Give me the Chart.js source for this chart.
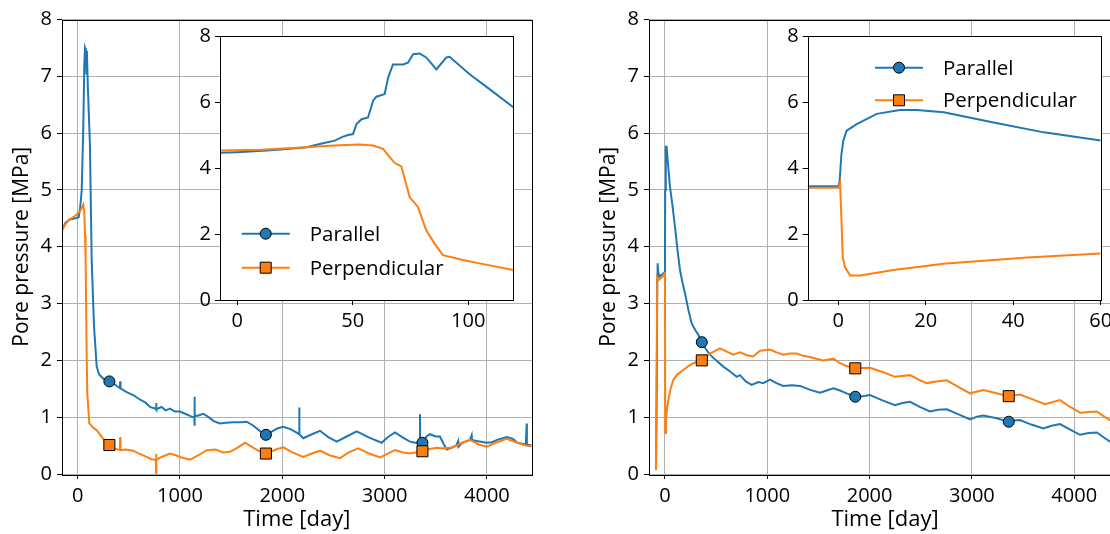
<!DOCTYPE html>
<html>
<head>
<meta charset="utf-8">
<script src="https://cdn.jsdelivr.net/npm/chart.js@4.4.1/dist/chart.umd.min.js"></script>
<style>
html, body { margin: 0; padding: 0; background: #fff; overflow: hidden; }
#wrap { position: relative; width: 1110px; height: 534px; overflow: hidden; }
canvas { position: absolute; }
</style>
</head>
<body>
<div id="wrap">
<canvas id="leftMain" width="560" height="534" style="left:0;top:0"></canvas>
<canvas id="rightMain" width="555" height="534" style="left:570px;top:0"></canvas>
<canvas id="leftInset" width="345" height="320" style="left:180px;top:20px"></canvas>
<canvas id="rightInset" width="360" height="320" style="left:765px;top:20px"></canvas>
</div>
<script>
// ---- data ----
const seriesNames = ['Parallel', 'Perpendicular'];

const mainXTicks = [0, 1000, 2000, 3000, 4000];
const mainYTicks = [0, 1, 2, 3, 4, 5, 6, 7, 8];
const insetYTicks = [0, 2, 4, 6, 8];
const leftInsetXTicks = [0, 50, 100];
const rightInsetXTicks = [0, 20, 40, 60];

// left panel, main
const leftParDays = [-150, -120, -80, -20, 10, 25, 40, 55, 65, 72, 80, 86, 90, 100, 120, 137, 160, 186, 210, 250, 310, 360, 413, 416, 419, 470, 542, 600, 660, 707, 740, 766, 768, 770, 820, 860, 902, 950, 1000, 1050, 1114, 1140, 1141, 1143, 1146, 1180, 1228, 1280, 1330, 1391, 1450, 1520, 1600, 1652, 1718, 1780, 1840, 1900, 1950, 2010, 2080, 2150, 2164, 2166, 2168, 2205, 2290, 2369, 2450, 2532, 2630, 2727, 2850, 2971, 3040, 3102, 3180, 3248, 3300, 3344, 3346, 3348, 3370, 3410, 3444, 3500, 3541, 3580, 3607, 3650, 3700, 3720, 3722, 3760, 3835, 3851, 3853, 3900, 3998, 4050, 4100, 4194, 4250, 4300, 4380, 4389, 4391, 4438];
const leftParVals = [4.30, 4.42, 4.48, 4.50, 4.52, 4.70, 5.00, 6.10, 7.20, 7.50, 7.45, 7.05, 7.45, 6.80, 5.80, 3.77, 2.60, 1.89, 1.75, 1.68, 1.63, 1.58, 1.51, 1.63, 1.51, 1.45, 1.39, 1.32, 1.26, 1.18, 1.16, 1.15, 1.25, 1.14, 1.18, 1.12, 1.15, 1.10, 1.10, 1.06, 1.01, 1.00, 1.36, 0.85, 1.02, 1.03, 1.06, 1.00, 0.93, 0.89, 0.90, 0.91, 0.91, 0.92, 0.85, 0.76, 0.69, 0.75, 0.80, 0.83, 0.79, 0.72, 0.70, 1.17, 0.70, 0.63, 0.70, 0.76, 0.65, 0.57, 0.66, 0.75, 0.64, 0.55, 0.66, 0.73, 0.64, 0.57, 0.55, 0.55, 1.05, 0.56, 0.55, 0.66, 0.70, 0.66, 0.66, 0.52, 0.43, 0.46, 0.50, 0.58, 0.48, 0.55, 0.60, 0.68, 0.60, 0.58, 0.55, 0.56, 0.60, 0.65, 0.62, 0.55, 0.52, 0.89, 0.52, 0.50];
const leftPerpDays = [-150, -120, -80, -20, 20, 45, 55, 65, 72, 78, 86, 94, 114, 150, 186, 250, 310, 360, 413, 416, 419, 470, 542, 600, 674, 720, 764, 766, 768, 770, 820, 902, 960, 1000, 1098, 1180, 1261, 1350, 1420, 1489, 1560, 1636, 1718, 1780, 1840, 1881, 1950, 2010, 2100, 2205, 2290, 2369, 2460, 2564, 2650, 2743, 2850, 2955, 3030, 3102, 3180, 3248, 3300, 3370, 3440, 3509, 3580, 3672, 3760, 3835, 3920, 3998, 4100, 4194, 4300, 4380, 4438];
const leftPerpVals = [4.30, 4.40, 4.48, 4.55, 4.62, 4.70, 4.74, 4.60, 4.20, 3.77, 2.40, 1.42, 0.89, 0.82, 0.77, 0.62, 0.51, 0.45, 0.42, 0.65, 0.42, 0.43, 0.41, 0.36, 0.30, 0.26, 0.25, 0.00, 0.35, 0.25, 0.30, 0.36, 0.33, 0.30, 0.25, 0.33, 0.42, 0.43, 0.38, 0.39, 0.46, 0.55, 0.46, 0.40, 0.36, 0.39, 0.44, 0.47, 0.38, 0.30, 0.36, 0.41, 0.33, 0.28, 0.38, 0.45, 0.36, 0.29, 0.36, 0.42, 0.38, 0.36, 0.38, 0.40, 0.44, 0.46, 0.45, 0.47, 0.55, 0.60, 0.52, 0.48, 0.56, 0.62, 0.55, 0.50, 0.49];
const leftMarkDays = [310, 1840, 3370];

// left panel, inset (first 120 days)
const leftInsetParDays = [-7.5, 0, 12.7, 20, 30, 35.7, 42.2, 45.8, 48, 50.1, 51.6, 53.8, 56.6, 58.8, 60.2, 63.8, 65.3, 67.4, 71.8, 73.9, 76.1, 78.9, 81.8, 86.2, 90.5, 91.9, 100.6, 109.2, 119.5];
const leftInsetParVals = [4.46, 4.48, 4.53, 4.57, 4.63, 4.73, 4.83, 4.95, 5.00, 5.03, 5.33, 5.48, 5.53, 6.04, 6.16, 6.24, 6.74, 7.14, 7.14, 7.19, 7.45, 7.47, 7.35, 6.99, 7.35, 7.37, 6.84, 6.39, 5.84];
const leftInsetPerpDays = [-7.5, 10, 30, 42, 52.6, 58.8, 63.1, 66, 68.2, 71, 74.6, 78.2, 81.8, 85.4, 89, 97.7, 104.9, 119.5];
const leftInsetPerpVals = [4.53, 4.55, 4.63, 4.68, 4.71, 4.68, 4.58, 4.33, 4.15, 4.05, 3.12, 2.82, 2.11, 1.71, 1.36, 1.21, 1.11, 0.91];

// right panel, main
const rightParDays = [-88, -80, -75, -72, -65, -55, -40, -20, -5, 0, 2, 8, 16, 30, 49, 75, 98, 120, 147, 170, 196, 230, 261, 300, 326, 360, 400, 440, 500, 570, 640, 701, 733, 790, 847, 913, 960, 1026, 1090, 1157, 1240, 1320, 1420, 1515, 1580, 1646, 1711, 1776, 1860, 1930, 2004, 2120, 2248, 2320, 2395, 2490, 2590, 2670, 2754, 2870, 2981, 3050, 3112, 3242, 3360, 3410, 3470, 3580, 3698, 3780, 3861, 3960, 4057, 4140, 4220, 4300, 4350, 4420];
const rightParVals = [0.07, 1.50, 3.50, 3.71, 3.55, 3.47, 3.50, 3.52, 3.55, 3.60, 5.00, 5.76, 5.76, 5.45, 5.06, 4.70, 4.35, 3.98, 3.59, 3.38, 3.18, 2.88, 2.65, 2.52, 2.45, 2.32, 2.20, 2.10, 2.00, 1.89, 1.80, 1.71, 1.74, 1.63, 1.57, 1.62, 1.60, 1.66, 1.60, 1.55, 1.56, 1.55, 1.48, 1.43, 1.47, 1.51, 1.47, 1.42, 1.36, 1.37, 1.39, 1.30, 1.21, 1.25, 1.27, 1.18, 1.10, 1.13, 1.14, 1.05, 0.96, 1.01, 1.03, 0.98, 0.92, 0.94, 0.95, 0.87, 0.80, 0.85, 0.88, 0.78, 0.69, 0.72, 0.73, 0.63, 0.57, 0.53];
const rightPerpDays = [-88, -82, -75, -60, -40, -20, -7, 0, 3, 10, 20, 33, 55, 81, 120, 179, 230, 277, 360, 420, 472, 537, 600, 668, 733, 800, 863, 929, 1026, 1090, 1157, 1220, 1287, 1350, 1418, 1480, 1548, 1646, 1711, 1776, 1860, 2004, 2120, 2248, 2395, 2480, 2558, 2650, 2754, 2870, 2981, 3112, 3242, 3360, 3470, 3600, 3714, 3861, 3960, 4057, 4140, 4220, 4300, 4350, 4420];
const rightPerpVals = [0.07, 1.80, 3.47, 3.42, 3.45, 3.48, 3.53, 3.55, 0.72, 0.95, 1.15, 1.30, 1.50, 1.65, 1.75, 1.83, 1.90, 1.95, 2.00, 2.10, 2.15, 2.21, 2.16, 2.10, 2.14, 2.09, 2.07, 2.17, 2.19, 2.14, 2.10, 2.12, 2.12, 2.08, 2.06, 2.03, 2.00, 2.03, 1.95, 1.90, 1.86, 1.87, 1.80, 1.71, 1.74, 1.66, 1.60, 1.63, 1.65, 1.53, 1.42, 1.48, 1.42, 1.37, 1.40, 1.31, 1.23, 1.30, 1.18, 1.08, 1.09, 1.10, 1.00, 0.95, 0.90];
const rightMarkDays = [360, 1860, 3360];

// right panel, inset (first 60 days)
const rightInsetParDays = [-7, 0, 0.3, 0.7, 1.15, 1.9, 4.2, 8.8, 14.1, 17.9, 24.1, 35.5, 47, 60];
const rightInsetParVals = [3.45, 3.45, 3.60, 4.40, 4.83, 5.13, 5.33, 5.64, 5.76, 5.76, 5.69, 5.38, 5.08, 4.83];
const rightInsetPerpDays = [-7, 0, 0.4, 0.7, 1.0, 1.5, 2.7, 5, 12.6, 21.8, 24, 43.2, 60];
const rightInsetPerpVals = [3.40, 3.40, 3.55, 2.50, 1.31, 1.00, 0.74, 0.74, 0.91, 1.06, 1.10, 1.29, 1.41];

// ---- styling / helpers ----
const BLUE = '#1f77b4';
const ORANGE = '#ff7f0e';
const FONT = "'Open Sans', 'DejaVu Sans', sans-serif";

const pts = (xs, ys) => xs.map((x, i) => ({ x: x, y: ys[i] }));
const fixedTicks = arr => (scale => { scale.ticks = arr.map(v => ({ value: v })); });
const plain = v => String(v);

const frame = {
  id: 'frame',
  beforeDraw(chart, args, opts) {
    if (!opts.fill) return;
    const a = chart.chartArea;
    chart.ctx.save();
    chart.ctx.fillStyle = opts.fill;
    chart.ctx.fillRect(a.left, a.top, a.right - a.left, a.bottom - a.top);
    chart.ctx.restore();
  },
  afterDraw(chart) {
    const a = chart.chartArea, ctx = chart.ctx;
    ctx.save();
    ctx.strokeStyle = '#000';
    ctx.lineWidth = 1;
    ctx.strokeRect(Math.round(a.left) + 0.5, Math.round(a.top) + 0.5,
      Math.round(a.right - a.left), Math.round(a.bottom - a.top));
    ctx.restore();
  }
};

// legend with line + marker, like matplotlib
const insetLegend = {
  id: 'insetLegend',
  afterDraw(chart, args, opts) {
    if (!opts.show) return;
    const ctx = chart.ctx, a = chart.chartArea;
    ctx.save();
    chart.data.datasets.forEach((ds, i) => {
      const x0 = a.left + opts.x, y = a.top + opts.y + i * opts.gap;
      ctx.strokeStyle = ds.borderColor;
      ctx.lineWidth = 2;
      ctx.beginPath(); ctx.moveTo(x0, y); ctx.lineTo(x0 + 48, y); ctx.stroke();
      ctx.fillStyle = ds.borderColor;
      ctx.strokeStyle = '#000';
      ctx.lineWidth = 1;
      ctx.beginPath();
      if (ds.pointStyle === 'rect') ctx.rect(x0 + 24 - 5.5, y - 5.5, 11, 11);
      else ctx.arc(x0 + 24, y, 5.5, 0, Math.PI * 2);
      ctx.fill(); ctx.stroke();
      ctx.fillStyle = '#000';
      ctx.font = '20.5px ' + FONT;
      ctx.textBaseline = 'middle';
      ctx.fillText(seriesNames[i], x0 + 68, y + 1);
    });
    ctx.restore();
  }
};

function makeDatasets(parDays, parVals, perpDays, perpVals, markDays) {
  const rad = (r) => (c => (markDays && markDays.includes(c.raw.x)) ? r : 0);
  return [{
    label: seriesNames[0],
    data: pts(parDays, parVals),
    borderColor: BLUE, backgroundColor: BLUE,
    borderWidth: 2, tension: 0, order: 1,
    pointStyle: 'circle', pointRadius: rad(5.5),
    pointBackgroundColor: BLUE, pointBorderColor: '#000', pointBorderWidth: 1
  }, {
    label: seriesNames[1],
    data: pts(perpDays, perpVals),
    borderColor: ORANGE, backgroundColor: ORANGE,
    borderWidth: 2, tension: 0, order: 0,
    pointStyle: 'rect', pointRadius: rad(7.8),
    pointBackgroundColor: ORANGE, pointBorderColor: '#000', pointBorderWidth: 1
  }];
}

function mainChart(id, datasets, xMin, xMax, yWidth, titlePad, padRight) {
  return new Chart(document.getElementById(id), {
    type: 'line',
    data: { datasets: datasets },
    plugins: [frame],
    options: {
      responsive: false,
      animation: false,
      events: [],
      layout: { padding: { top: 19.5, right: padRight, left: 0, bottom: 0 } },
      scales: {
        x: {
          type: 'linear', min: xMin, max: xMax,
          afterBuildTicks: fixedTicks(mainXTicks),
          afterFit: s => { s.height = 60; },
          grid: { color: '#b0b0b0', lineWidth: 1, tickColor: '#000', tickLength: 5, tickWidth: 1 },
          border: { display: false },
          ticks: { color: '#000', font: { family: FONT, size: 20 }, padding: 5, autoSkip: false, maxRotation: 0, callback: plain },
          title: { display: true, text: 'Time [day]', color: '#000', font: { family: FONT, size: 22 }, padding: { top: 0, bottom: 1 } }
        },
        y: {
          min: 0, max: 8,
          afterBuildTicks: fixedTicks(mainYTicks),
          afterFit: s => { s.width = yWidth; },
          grid: { color: '#b0b0b0', lineWidth: 1, tickColor: '#000', tickLength: 5, tickWidth: 1 },
          border: { display: false },
          ticks: { color: '#000', font: { family: FONT, size: 20 }, padding: 5, callback: plain },
          title: { display: true, text: 'Pore pressure [MPa]', color: '#000', font: { family: FONT, size: 21 }, padding: { top: titlePad, bottom: 0 } }
        }
      },
      plugins: { legend: { display: false }, tooltip: { enabled: false }, frame: {} }
    }
  });
}

function insetChart(id, datasets, xMin, xMax, xTicks, yWidth, padRight, legend) {
  return new Chart(document.getElementById(id), {
    type: 'line',
    data: { datasets: datasets },
    plugins: [frame, insetLegend],
    options: {
      responsive: false,
      animation: false,
      events: [],
      layout: { padding: { top: 15, right: padRight, left: 0, bottom: 0 } },
      scales: {
        x: {
          type: 'linear', min: xMin, max: xMax,
          afterBuildTicks: fixedTicks(xTicks),
          afterFit: s => { s.height = 40; },
          grid: { drawOnChartArea: false, tickColor: '#000', tickLength: 5, tickWidth: 1 },
          border: { display: false },
          ticks: { color: '#000', font: { family: FONT, size: 20 }, padding: 4, autoSkip: false, maxRotation: 0, callback: plain }
        },
        y: {
          min: 0, max: 8,
          afterBuildTicks: fixedTicks(insetYTicks),
          afterFit: s => { s.width = yWidth; },
          grid: { drawOnChartArea: false, tickColor: '#000', tickLength: 5, tickWidth: 1 },
          border: { display: false },
          ticks: { color: '#000', font: { family: FONT, size: 20 }, padding: 4, callback: plain }
        }
      },
      plugins: {
        legend: { display: false }, tooltip: { enabled: false },
        frame: { fill: '#fff' },
        insetLegend: legend
      }
    }
  });
}

mainChart('leftMain', makeDatasets(leftParDays, leftParVals, leftPerpDays, leftPerpVals, leftMarkDays), -153, 4438, 62, 9.5, 28.3);
mainChart('rightMain', makeDatasets(rightParDays, rightParVals, rightPerpDays, rightPerpVals, rightMarkDays), -156, 4457, 79, 26, 4);
insetChart('leftInset', makeDatasets(leftInsetParDays, leftInsetParVals, leftInsetPerpDays, leftInsetPerpVals, null), -7.5, 119.5, leftInsetXTicks, 40, 11.7,
  { show: true, x: 21.7, y: 197.7, gap: 34 });
insetChart('rightInset', makeDatasets(rightInsetParDays, rightInsetParVals, rightInsetPerpDays, rightInsetPerpVals, null), -7, 60, rightInsetXTicks, 42.7, 24.3,
  { show: true, x: 67.3, y: 31.7, gap: 32.6 });
</script>
</body>
</html>
